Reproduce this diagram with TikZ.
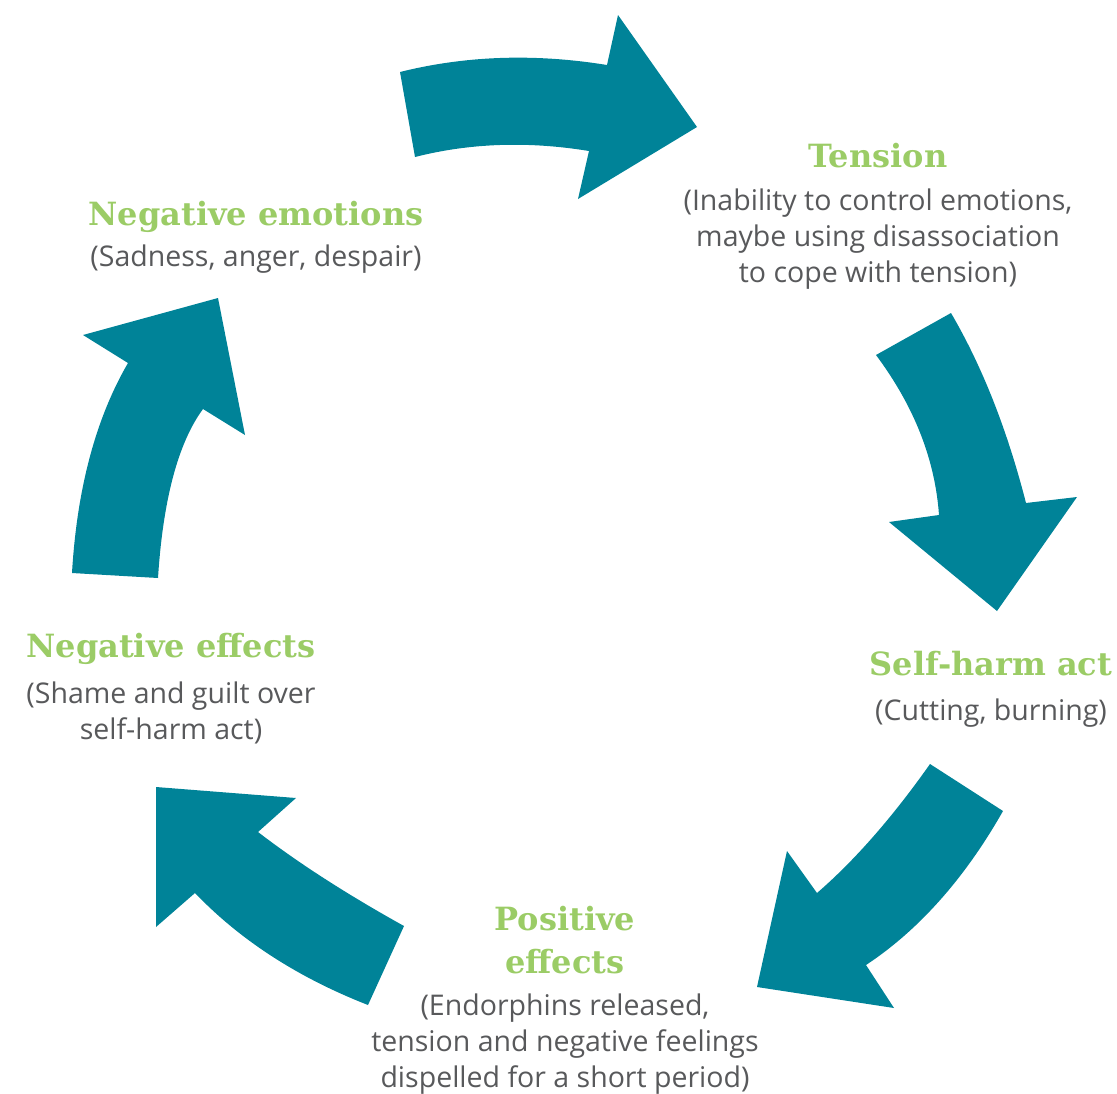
\documentclass[tikz,border=0pt]{standalone}
\usepackage{fontspec}
\setmainfont{Open Sans}
\newfontfamily\slabfont{DejaVu Serif}
\usepackage{tikz}
\definecolor{arrowteal}{RGB}{0,131,152}
\definecolor{leafgreen}{RGB}{155,204,102}
\definecolor{textgrey}{RGB}{88,89,91}
\usetikzlibrary{positioning}

\begin{document}
\begin{tikzpicture}[x=1pt,y=-1pt,
    bigarrow/.style={fill=arrowteal},
    head/.style={anchor=base,inner sep=0pt,text=leafgreen,align=center,
        font=\slabfont\bfseries\fontsize{32}{43}\selectfont},
    desc/.style={anchor=north,inner sep=0pt,text=textgrey,align=center,
        font=\fontsize{28.5}{36}\selectfont}
]
\useasboundingbox (0,0) rectangle (1117,1093);

\node[head] (emo) at (256,225) {Negative emotions};
\node[desc, below=20pt of emo.base] (emotxt) {(Sadness, anger, despair)};

\node[head] (tension) at (878,167) {Tension};
\node[desc, below=22pt of tension.base] (tensiontxt)
    {(Inability to control emotions,\\ maybe using disassociation\\ to cope with tension)};

\node[head] (selfharm) at (991,675) {Self-harm act};
\node[desc, below=24pt of selfharm.base] (selfharmtxt) {(Cutting, burning)};

\node[head] (posfx) at (565,973) {Positive\\ effects};
\node[desc, below=21pt of posfx.base] (posfxtxt)
    {(Endorphins released,\\ tension and negative feelings\\ dispelled for a short period)};

\node[head] (negfx) at (171,657) {Negative effects};
\node[desc, below=25pt of negfx.base] (negfxtxt) {(Shame and guilt over\\ self-harm act)};

\fill[bigarrow] (400,72) .. controls (464,56) and (533,53) .. (607,65) -- (618,15) -- (697,127)
    -- (578,199) -- (589,151) .. controls (528,141) and (470,143) .. (415,157) -- cycle;
\fill[bigarrow] (951,313) .. controls (982,366) and (1007,429) .. (1026,503) -- (1077,497) -- (997,611)
    -- (889,522) -- (939,515) .. controls (935,459) and (914,406) .. (876,355) -- cycle;
\fill[bigarrow] (1003,811) .. controls (965,878) and (919,930) .. (866,965) -- (894,1008) -- (757,987)
    -- (787,851) -- (817,893) .. controls (854,861) and (892,818) .. (930,764) -- cycle;
\fill[bigarrow] (368,1005) .. controls (299,978) and (241,941) .. (195,893) -- (156,927) -- (156,787)
    -- (296,798) -- (258,832) .. controls (301,865) and (350,896) .. (404,926) -- cycle;
\fill[bigarrow] (72,573) .. controls (77,488) and (96,418) .. (128,363) -- (83,335) -- (218,298)
    -- (245,435) -- (203,409) .. controls (178,443) and (163,500) .. (158,578) -- cycle;
\end{tikzpicture}
\end{document}
